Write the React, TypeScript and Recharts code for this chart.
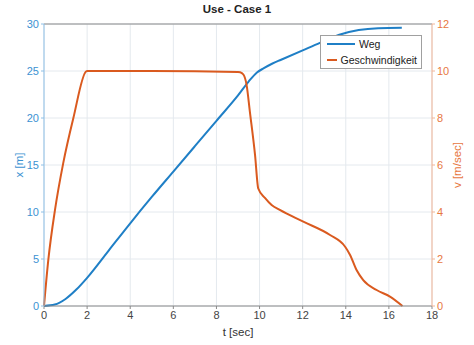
import {
  LineChart,
  Line,
  XAxis,
  YAxis,
  CartesianGrid,
  Legend,
  ReferenceLine,
} from 'recharts';

// Weg x(t) [m]
const wegT = [0, 0.5, 1, 1.5, 2, 3, 4, 5, 6, 7, 8, 9, 9.5, 9.88, 10.2, 10.6, 11, 12, 12.8, 13.7, 14.6, 15.5, 16.6];
const wegX = [0, 0.15, 0.75, 1.75, 3.0, 5.9, 8.8, 11.6, 14.3, 17.0, 19.7, 22.4, 23.9, 24.85, 25.3, 25.8, 26.2, 27.2, 28.0, 28.85, 29.35, 29.55, 29.6];

// Geschwindigkeit v(t) [m/sec]
const geschT = [0, 0.2, 0.51, 0.89, 1.36, 1.95, 2, 5, 9, 9.1, 9.25, 9.4, 9.55, 9.79, 9.94, 10.25, 10.56, 10.94, 12.03, 13.27, 13.97, 14.2, 14.5, 14.81, 15.43, 16.05, 16.63];
const geschV = [0, 1.96, 4.09, 6.07, 7.99, 9.98, 10, 10, 9.96, 9.95, 9.85, 9.4, 8.27, 6.43, 5.0, 4.6, 4.3, 4.09, 3.59, 3.02, 2.52, 2.17, 1.53, 1.1, 0.68, 0.4, 0];

const tTicks = [0, 2, 4, 6, 8, 10, 12, 14, 16, 18];
const xTicks = [0, 5, 10, 15, 20, 25, 30];
const vTicks = [0, 2, 4, 6, 8, 10, 12];

const wegData = wegT.map((t, i) => ({ t, x: wegX[i] }));
const geschData = geschT.map((t, i) => ({ t, v: geschV[i] }));

const BLUE = '#1f7fc6';
const ORANGE = '#da5a1f';
const FONT = '"Liberation Sans", Arial, sans-serif';

function LegendBox() {
  const row = (color: string, label: string) => (
    <div style={{ display: 'flex', alignItems: 'center', height: 16 }}>
      <div style={{ width: 28, height: 2, background: color, marginRight: 4 }} />
      <span>{label}</span>
    </div>
  );
  return (
    <div
      style={{
        background: '#fff',
        border: '1px solid #a0a0a0',
        padding: '0 4px 0 6px',
        fontSize: 10.5,
        fontFamily: FONT,
        color: '#222',
        width: 90,
      }}
    >
      {row(BLUE, 'Weg')}
      {row(ORANGE, 'Geschwindigkeit')}
    </div>
  );
}

export default function App() {
  return (
    <div style={{ position: 'absolute', left: 0, top: 0, width: 474, height: 345, background: '#fff', fontFamily: FONT }}>
      <div
        style={{
          position: 'absolute',
          top: 3,
          left: 0,
          width: 474,
          textAlign: 'center',
          fontSize: 11.5,
          fontWeight: 'bold',
          color: '#222',
          zIndex: 2,
        }}
      >
        Use - Case 1
      </div>
      <LineChart width={474} height={345} margin={{ top: 24, right: 2, left: 4, bottom: 9 }}>
        <CartesianGrid stroke="#e4e9ee" yAxisId="left" />
        <XAxis
          dataKey="t"
          type="number"
          domain={[0, 18]}
          ticks={tTicks}
          allowDuplicatedCategory={false}
          height={30}
          stroke="#8a8a8a"
          tickSize={3}
          tick={{ fill: '#444', fontSize: 11 }}
          label={{ value: 't [sec]', position: 'insideBottom', offset: 0, fill: '#333', fontSize: 11.5 }}
        />
        <YAxis
          yAxisId="left"
          domain={[0, 30]}
          ticks={xTicks}
          width={40}
          stroke="#8fc0e6"
          tickSize={3}
          tick={{ fill: '#3c92d2', fontSize: 11 }}
          label={{ value: 'x [m]', angle: -90, position: 'center', dx: -5, fill: '#3c92d2', fontSize: 11.5 }}
        />
        <YAxis
          yAxisId="right"
          orientation="right"
          domain={[0, 12]}
          ticks={vTicks}
          width={40}
          stroke="#f2b597"
          tickSize={3}
          tick={{ fill: '#e7783f', fontSize: 11 }}
          label={{ value: 'v [m/sec]', angle: -90, position: 'center', dx: 5, fill: '#e7783f', fontSize: 11.5 }}
        />
        <ReferenceLine yAxisId="left" y={30} stroke="#8a8a8a" />
        <Line
          yAxisId="left"
          data={wegData}
          dataKey="x"
          name="Weg"
          type="monotone"
          stroke={BLUE}
          strokeWidth={2}
          dot={false}
          isAnimationActive={false}
        />
        <Line
          yAxisId="right"
          data={geschData}
          dataKey="v"
          name="Geschwindigkeit"
          type="monotone"
          stroke={ORANGE}
          strokeWidth={2}
          dot={false}
          isAnimationActive={false}
        />
        <Legend
          layout="horizontal"
          verticalAlign="middle"
          align="center"
          content={() => <LegendBox />}
          wrapperStyle={{ position: 'absolute', left: 320, top: 35, width: 'auto' }}
        />
      </LineChart>
    </div>
  );
}
